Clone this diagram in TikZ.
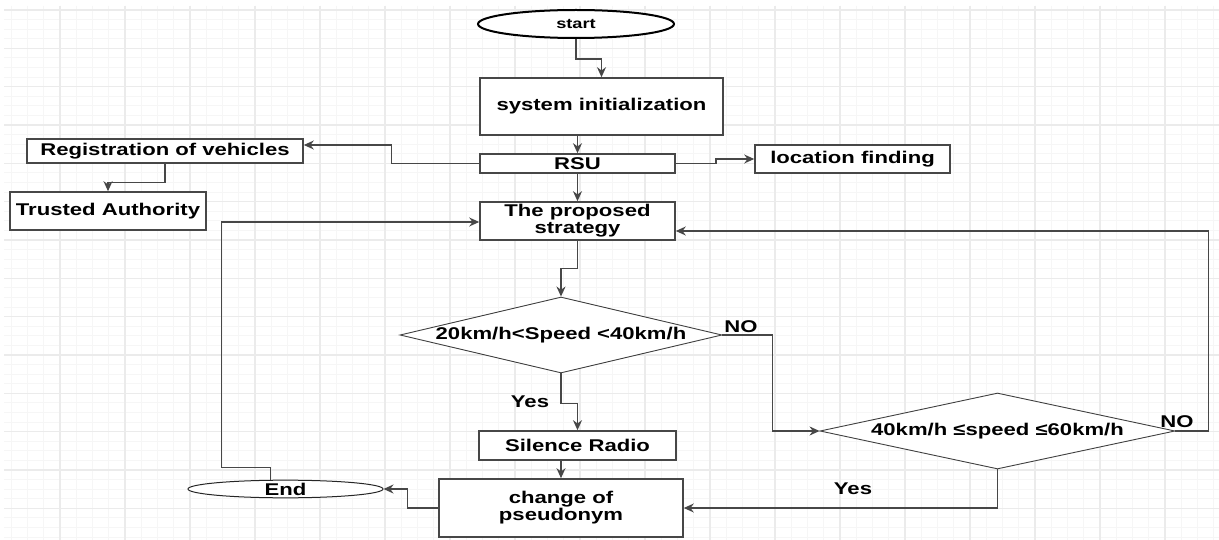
\documentclass[tikz,border=0pt]{standalone}
\usepackage{fontspec}
\setmainfont{Liberation Sans}[FakeStretch=1.3]
\usetikzlibrary{shapes.geometric,arrows.meta,calc}
\begin{document}
\begin{tikzpicture}[x=1pt,y=-1pt,
  every node/.style={font=\fontsize{17pt}{17pt}\selectfont\bfseries, text=black},
  box/.style={rectangle, draw=black!72, line width=1.6pt, fill=white, inner sep=0pt, align=center},
  dec/.style={diamond, draw=black!75, line width=0.9pt, fill=white, inner sep=0pt},
  conn/.style={draw=black!72, line width=1.4pt, -{Stealth[length=10pt,width=9pt]}},
  lab/.style={inner sep=0pt},
  minorgrid/.style={draw=black!3.5, line width=1pt},
  majorgrid/.style={draw=black!8, line width=1.4pt}
]
\fill[white] (0,0) rectangle (1219,540);
\useasboundingbox (0,0) rectangle (1219,540);
% grid
\foreach \i in {0,...,74} \draw[minorgrid] ({11.25+16.25*\i},6) -- ({11.25+16.25*\i},540);
\foreach \j in {0,...,55} \draw[minorgrid] (4,{10+9.5833*\j}) -- (1219,{10+9.5833*\j});
\foreach \i in {0,...,18} \draw[majorgrid] ({60+65*\i},6) -- ({60+65*\i},540);
\foreach \j in {0,...,13} \draw[majorgrid] (4,{10+38.333*\j}) -- (1219,{10+38.333*\j});

% nodes
\node[ellipse, draw=black, line width=2pt, fill=white, minimum width=196pt, minimum height=28pt, inner sep=0pt,
      font=\fontsize{14pt}{14pt}\selectfont\bfseries] (start) at (576,24) {start};
\node[box, minimum width=243pt, minimum height=57pt] (init) at (601.5,106.5) {system initialization};
\node[box, minimum width=195pt, minimum height=19pt] (rsu) at (577.5,163.5) {RSU};
\node[box, minimum width=276pt, minimum height=24pt] (reg) at (165,151) {Registration of vehicles};
\node[box, minimum width=196pt, minimum height=38pt] (ta) at (108,211) {Trusted Authority};
\node[box, minimum width=195pt, minimum height=28pt] (loc) at (852.5,159) {location finding};
\node[box, minimum width=195pt, minimum height=38pt] (prop) at (577.5,221) {The proposed\\strategy};
\node[dec, minimum width=322pt, minimum height=76pt, aspect=4.24] (d1) at (561,335) {20km/h<Speed <40km/h};
\node[box, minimum width=197pt, minimum height=29pt] (sil) at (577.5,445.5) {Silence Radio};
\node[box, minimum width=244pt, minimum height=58pt] (chg) at (561,508) {change of\\pseudonym};
\node[dec, minimum width=355pt, minimum height=76pt, aspect=4.67] (d2) at (997.5,431) {40km/h ≤speed ≤60km/h};
\node[ellipse, draw=black!85, line width=1pt, fill=white, minimum width=195pt, minimum height=16pt, inner sep=0pt] (end) at (285.5,489) {End};

% connectors
\draw[conn] (start.south) -- ++(0,20) -| (init.north);
\draw[conn] (init.south -| rsu.north) -- (rsu.north);
\draw[conn] (rsu.west) -- ++(-88,0) |- ([yshift=6pt]reg.east);
\draw[conn] (reg.south) -- ++(0,19) -| (ta.north);
\draw[conn] (rsu.east) -- ++(40,0) |- (loc.west);
\draw[conn] (rsu.south) -- (prop.north);
\draw[conn] ([xshift=-15pt]end.north) -- ++(0,-12) -- ++(-49,0) |- ([yshift=-1pt]prop.west);
\draw[conn] (prop.south) -- ++(0,28) -| (d1.north);
\draw[conn] (d1.south) -- ++(0,30) -| (sil.north);
\draw[conn] (sil.south -| chg.north) -- (chg.north);
\draw[conn] (chg.west) -- ++(-31,0) |- (end.east);
\draw[conn] (d1.east) -- ++(50,0) |- (d2.west);
\draw[conn] (d2.east) -- ++(33,0) |- ([yshift=-10pt]prop.east);
\draw[conn] (d2.south) |- (chg.east);

% labels
\node[lab] (yes1) at (530,402) {Yes};
\node[lab] (no1) at (741,327) {NO};
\node[lab] (no2) at (1177,422) {NO};
\node[lab] (yes2) at (853,489) {Yes};
\end{tikzpicture}
\end{document}
